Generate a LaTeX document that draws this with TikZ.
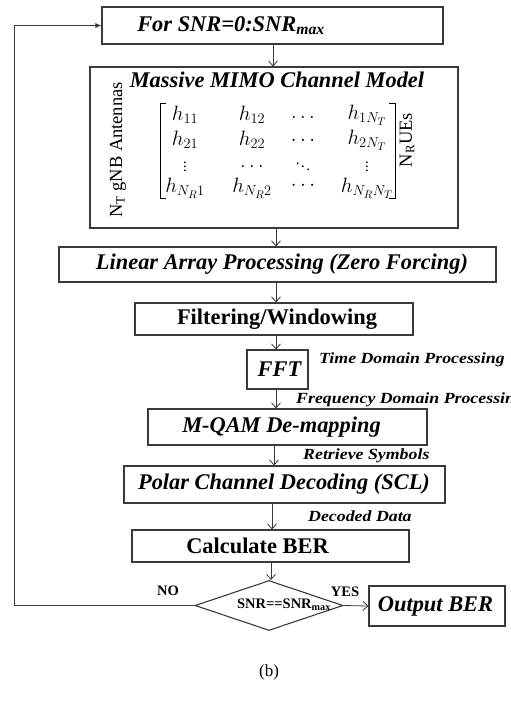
\documentclass[tikz,border=0pt]{standalone}
\usepackage{fontspec}
\setmainfont{Liberation Serif}
\usetikzlibrary{arrows.meta,shapes.geometric,calc}

\definecolor{edge}{HTML}{3A3A3A}
\newcommand{\widetext}[1]{\scalebox{1.15}[1]{#1}}

\begin{document}
\begin{tikzpicture}[x=1pt,y=-1pt,
  box/.style={draw=edge, line width=1.1pt, inner sep=0pt, fill=white},
  bigbi/.style={font=\fontsize{22.4}{26}\selectfont\bfseries\itshape, inner sep=0pt},
  bigbf/.style={font=\fontsize{22.4}{26}\selectfont\bfseries, inner sep=0pt},
  lbl/.style={font=\fontsize{15.5}{18}\selectfont\bfseries\itshape, inner sep=0pt, anchor=west},
  flow/.style={draw=edge, line width=0.8pt, -{Straight Barb[length=5pt,width=9pt,line width=0.8pt]}},
  ent/.style={font=\fontsize{22}{25}\selectfont, inner sep=0pt},
  dots/.style={font=\fontsize{15}{16}\selectfont, inner sep=0pt}
]
\clip (0,0) rectangle (511,704);
\fill[white] (0,0) rectangle (511,704);

% processing chain: frames
\node[box, minimum width=341, minimum height=37] (b1) at (272.5,25.5) {};
\node[box, minimum width=368, minimum height=161] (b2) at (274,147.5) {};
\node[box, minimum width=437, minimum height=35] (b3) at (277.5,264.5) {};
\node[box, minimum width=278, minimum height=32] (b4) at (274,319) {};
\node[box, minimum width=61, minimum height=39] (b5) at (277.5,369.5) {};
\node[box, minimum width=279, minimum height=36] (b6) at (287.5,427) {};
\node[box, minimum width=321, minimum height=37] (b7) at (284.5,484.5) {};
\node[box, minimum width=277, minimum height=32] (b8) at (270.5,546) {};
\node[draw=edge, line width=1.1pt, diamond, aspect=2.96, inner sep=0pt,
      minimum width=148, minimum height=50] (dia) at (269,605.5) {};
\node[box, minimum width=136, minimum height=40] (out) at (437,606) {};

% processing chain: texts
\node[bigbi] (b1t) at (231,25.5) {For SNR=0:SNR\textsubscript{max}};
\node[bigbi] (b2t) at (277,80) {Massive MIMO Channel Model};
\node[bigbi] (b3t) at (282,264.5) {Linear Array Processing (Zero Forcing)};
\node[bigbf] (b4t) at (277,319) {Filtering/Windowing};
\node[bigbi] (b5t) at (279.5,369.5) {FFT};
\node[bigbi] (b6t) at (281.5,427) {M-QAM De-mapping};
\node[bigbi] (b7t) at (284,484.5) {Polar Channel Decoding (SCL)};
\node[bigbf] (b8t) at (257.5,546) {Calculate BER};
\node[font=\fontsize{14.5}{16}\selectfont\bfseries, inner sep=0pt] (diat) at (284,605) {SNR==SNR\textsubscript{max}};
\node[bigbi] (outt) at (435.5,606) {Output BER};

% channel matrix
\node[ent] (m11) at (185,115) {$h_{11}$};
\node[ent] (m12) at (252,115) {$h_{12}$};
\node[ent] (m13) at (303,117) {$\dots$};
\node[ent] (m14) at (367,115) {$h_{1N_T}$};
\node[ent] (m21) at (185,140) {$h_{21}$};
\node[ent] (m22) at (252,140) {$h_{22}$};
\node[ent] (m23) at (303,141) {$\cdots$};
\node[ent] (m24) at (367,140) {$h_{2N_T}$};
\node[dots] (m31) at (185,164) {$\vdots$};
\node[ent] (m32) at (252,166) {$\dots$};
\node[dots] (m33) at (303,164) {$\ddots$};
\node[dots] (m34) at (367,164) {$\vdots$};
\node[ent] (m41) at (185,188) {$h_{N_R1}$};
\node[ent] (m42) at (252,188) {$h_{N_R2}$};
\node[ent] (m43) at (303,186) {$\cdots$};
\node[ent] (m44) at (367,188) {$h_{N_RN_T}$};
\draw[line width=0.9pt] (166,103) -- (160,103) -- (160,198) -- (166,198);
\draw[line width=0.9pt] (389,103) -- (395,103) -- (395,198) -- (389,198);

\node[rotate=90, font=\fontsize{18.5}{20}\selectfont, inner sep=0pt] (ant) at (118,150) {N\textsubscript{T} gNB Antennas};
\node[rotate=90, font=\fontsize{18.5}{20}\selectfont, inner sep=0pt] (ues) at (407,140) {N\textsubscript{R}UEs};

% connectors
\draw[flow] (b1.south -| 273,0) -- (b2.north -| 273,0);
\draw[flow] (b2.south -| 276,0) -- (b3.north -| 276,0);
\draw[flow] (b3.south -| 276,0) -- (b4.north -| 276,0);
\draw[flow] (b4.south -| 276,0) -- (b5.north -| 276,0);
\draw[flow] (b5.south -| 276,0) -- (b6.north -| 276,0);
\draw[flow] (b6.south -| 274,0) -- (b7.north -| 274,0);
\draw[flow] (b7.south -| 272,0) -- (b8.north -| 272,0);
\draw[flow] (b8.south -| 271,0) -- (dia.north -| 271,0);
\draw[flow] (dia.east) -- (out.west);
\coordinate (lx) at (14,0);
\draw[draw=edge, line width=0.8pt, -{Latex[length=6pt,width=5pt]}]
  (dia.west) -- (dia.west -| lx) -- (b1.west -| lx) -- (b1.west);

% edge labels
\node[lbl] (l1) at (319,360) {\widetext{Time Domain Processing}};
\node[lbl] (l2) at (296,400) {\widetext{Frequency Domain Processing}};
\node[lbl] (l3) at (303,456) {\widetext{Retrieve Symbols}};
\node[lbl] (l4) at (308,516) {\widetext{Decoded Data}};
\node[font=\fontsize{14.5}{16}\selectfont\bfseries, inner sep=0pt] (no) at (168,591) {NO};
\node[font=\fontsize{14.5}{16}\selectfont\bfseries, inner sep=0pt] (yes) at (345,592) {YES};

\node[font=\fontsize{17}{20}\selectfont, inner sep=0pt] (cap) at (269,672) {(b)};
\end{tikzpicture}
\end{document}
